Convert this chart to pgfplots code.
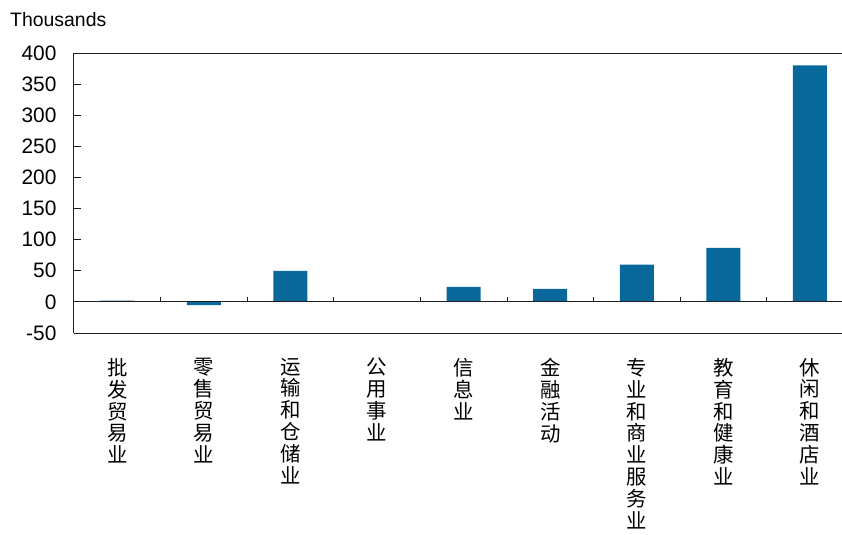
\documentclass[border=0pt]{standalone}
\usepackage{fontspec}
\setmainfont{Liberation Sans}
\newfontfamily\cjk{Noto Sans CJK SC}
\usepackage{pgfplots}
\pgfplotsset{compat=1.18}
\definecolor{barblue}{RGB}{8,104,156}
\definecolor{axisgray}{RGB}{30,30,30}
\begin{document}
\begin{tikzpicture}
\begin{axis}[
  at={(0,0)}, anchor=south west,
  scale only axis, width=768bp, height=280bp,
  xmin=-0.5, xmax=8.37, ymin=-50, ymax=400,
  axis x line=box, axis y line*=left,
  axis line style={axisgray, line width=1bp},
  ytick={-50,0,...,400},
  ytick pos=left, tick align=inside,
  major tick length=7.5bp,
  y tick style={axisgray, line width=0.8bp},
  x tick style={draw=none},
  /pgf/number format/assume math mode=true,
  yticklabel style={font=\fontsize{21}{24}\selectfont, anchor=east, xshift=-14bp},
  xtick={0,...,8},
  xticklabels={
    {批\\发\\贸\\易\\业},
    {零\\售\\贸\\易\\业},
    {运\\输\\和\\仓\\储\\业},
    {公\\用\\事\\业},
    {信\\息\\业},
    {金\\融\\活\\动},
    {专\\业\\和\\商\\业\\服\\务\\业},
    {教\\育\\和\\健\\康\\业},
    {休\\闲\\和\\酒\\店\\业}},
  xticklabel style={font=\cjk\fontsize{20.5}{22}\selectfont, align=center, anchor=north, yshift=-14bp},
  ybar, bar width=34bp,
]
\addplot[fill=barblue, draw=none] coordinates {
  (0,2) (1,-5) (2,50) (3,0) (4,24) (5,21) (6,60) (7,87) (8,380)
};
\draw[axisgray, line width=1bp] (axis cs:-0.5,0) -- (axis cs:8.37,0);
\pgfplotsinvokeforeach{0.5,1.5,2.5,3.5,4.5,5.5,6.5,7.5}{
  \draw[axisgray, line width=0.8bp] (axis cs:#1,0) -- (axis cs:#1,8);
}
\end{axis}
\node[anchor=base west, inner sep=0, font=\fontsize{19.5}{22}\selectfont] at (-64bp,306bp) {Thousands};
\pgfresetboundingbox
\useasboundingbox (-74bp,-202bp) rectangle (768bp,333bp);
\end{tikzpicture}
\end{document}
